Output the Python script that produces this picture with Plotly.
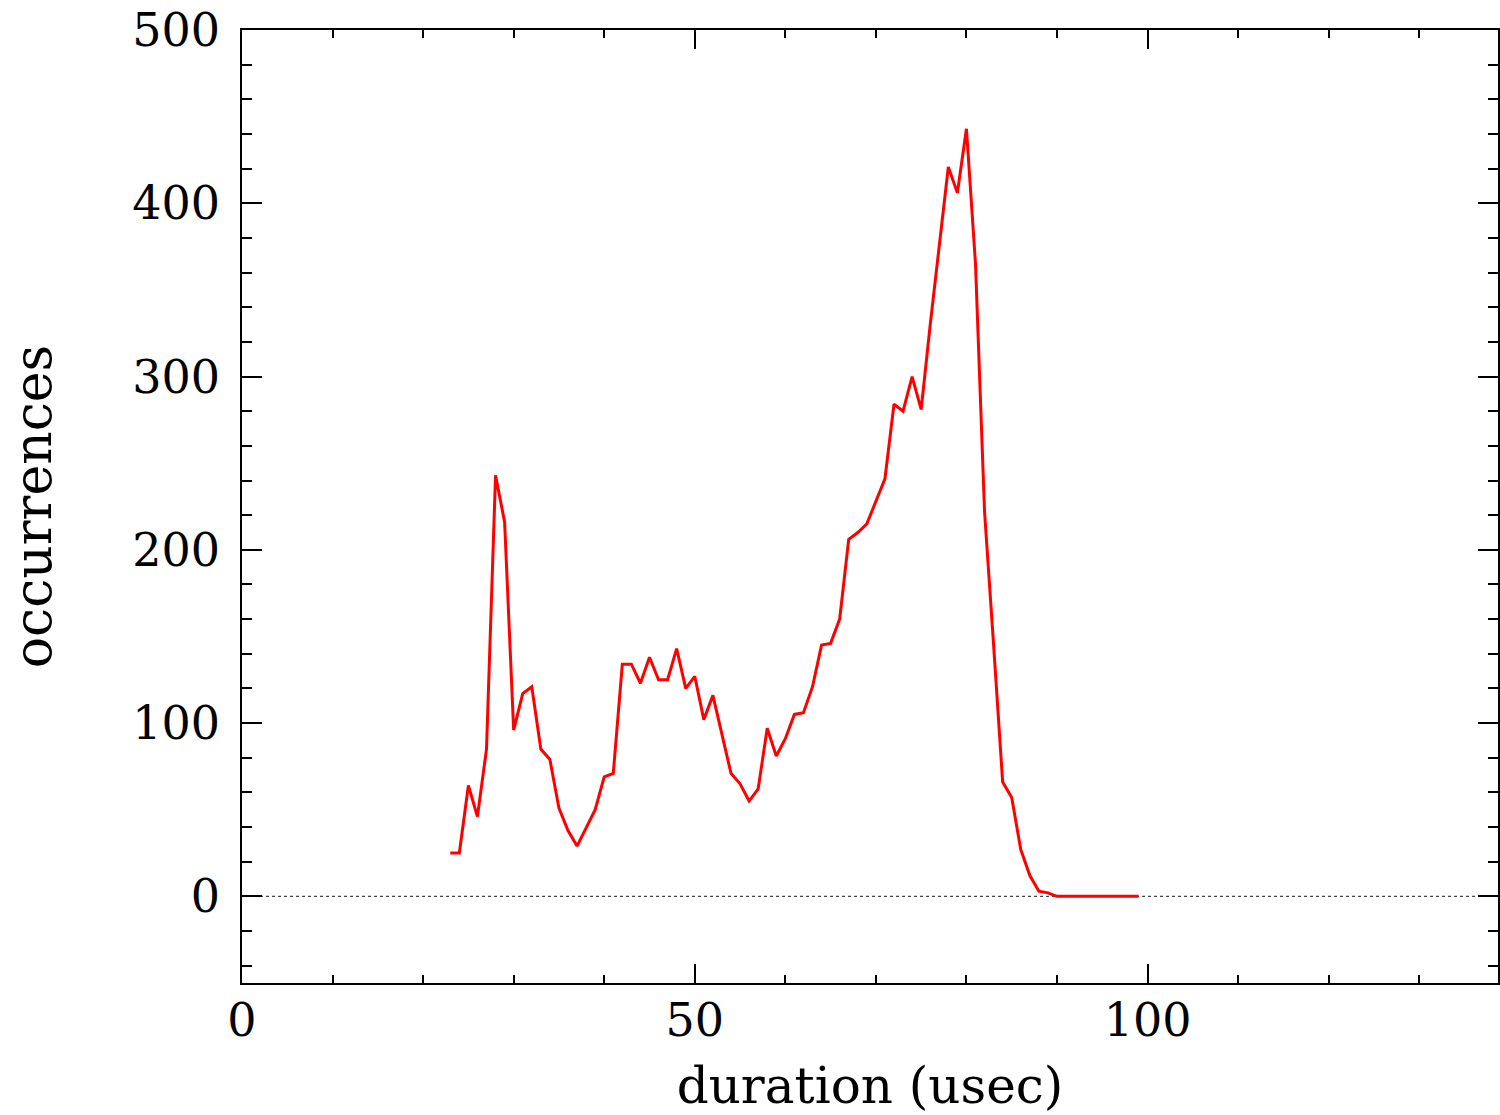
import plotly.graph_objects as go

duration = list(range(23, 100))
occurrences = [
    25, 25, 64, 46, 85, 243, 216, 96, 117, 121,      # 23-32
    85, 79, 51, 38, 29, 40, 50, 69, 71, 134,         # 33-42
    134, 123, 138, 125, 125, 143, 120, 127, 102, 116,  # 43-52
    93, 71, 65, 55, 62, 97, 81, 91, 105, 106,        # 53-62
    121, 145, 146, 160, 206, 210, 215, 228, 241, 284,  # 63-72
    280, 300, 281, 330, 376, 421, 406, 443, 365, 222,  # 73-82
    145, 66, 57, 27, 12, 3, 2, 0, 0, 0,              # 83-92
    0, 0, 0, 0, 0, 0, 0                              # 93-99
]

x_range = [0, 138.7]
y_range = [-50, 500]

FONT = "DejaVu Serif"

fig = go.Figure()
fig.add_trace(go.Scatter(
    x=duration, y=occurrences, mode="lines",
    line=dict(color="#ff0000", width=3),
    showlegend=False, hoverinfo="skip",
))

fig.add_shape(type="line", xref="paper", yref="y", x0=0, x1=1, y0=0, y1=0,
              line=dict(color="#444444", width=1.2, dash="dot"), layer="below")

axis_common = dict(
    showgrid=False, zeroline=False, showline=True, linecolor="black", linewidth=1.5,
    ticks="inside", tickcolor="black", tickwidth=1.5, mirror="ticks",
    tickfont=dict(family=FONT, size=46, color="black"),
)

fig.update_xaxes(
    range=x_range, dtick=50, tick0=0, ticklen=19,
    minor=dict(dtick=10, ticklen=8, ticks="inside", tickcolor="black", tickwidth=1.5),
    ticklabelstandoff=-4,
    title=dict(text="duration (usec)", font=dict(family=FONT, size=50, color="black"), standoff=26),
    **axis_common,
)
fig.update_yaxes(
    range=y_range, dtick=100, tick0=0, ticklen=20,
    minor=dict(dtick=20, ticklen=10, ticks="inside", tickcolor="black", tickwidth=1.5),
    ticklabelstandoff=11,
    title=dict(text="occurrences", font=dict(family=FONT, size=52, color="black"), standoff=64),
    **axis_common,
)

fig.update_layout(
    width=1500, height=1115,
    margin=dict(l=242, r=0, t=30, b=132, pad=0),
    paper_bgcolor="white", plot_bgcolor="white",
)

fig.write_html("out.html")
